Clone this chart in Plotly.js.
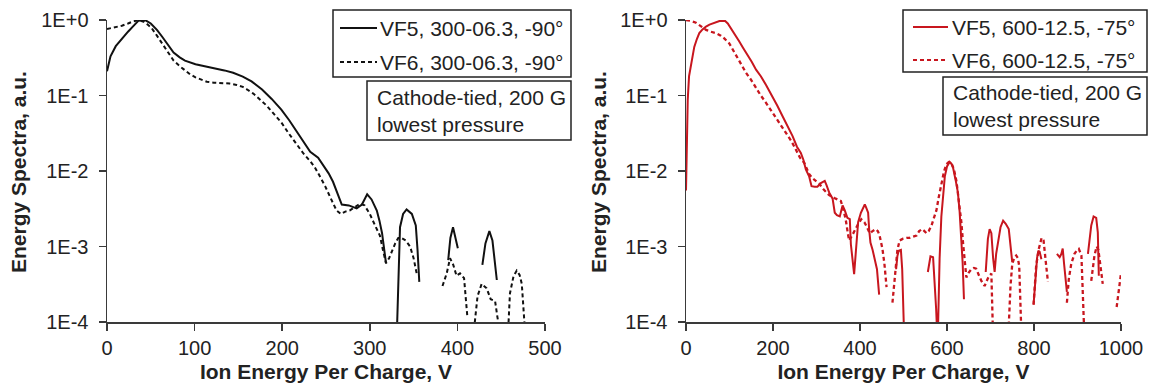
<!DOCTYPE html>
<html>
<head>
<meta charset="utf-8">
<script src="https://cdn.plot.ly/plotly-3.0.1.min.js"></script>
<style>html,body{margin:0;padding:0;background:#fff;}#chart{width:1149px;height:383px;}</style>
</head>
<body>
<div id="chart"></div>
<script>
// ---- Data ----
const leftVF5_x = [0,4,10,17,24,30,36,40,44,50,57,63,70,76,83,89,101,112,123,134,144,155,165,177,188,199,208,216,224,232,241,247,253,258,264,268,276,285,291,297,302,308,311,314,318.5,324,330.5,334.5,338,342,348,352.5,354.5,356.5,370,389.5,392,395,398,400.5,415,428.5,432,436.5,440,445];
const leftVF5_y = [0.21,0.33,0.45,0.57,0.70,0.83,0.98,0.995,0.99,0.90,0.74,0.60,0.46,0.37,0.32,0.29,0.26,0.245,0.23,0.215,0.20,0.178,0.154,0.12,0.09,0.065,0.047,0.034,0.025,0.018,0.015,0.012,0.0093,0.0072,0.0048,0.0036,0.0035,0.0032,0.0036,0.0049,0.0042,0.003,0.0022,0.0015,0.0006,null,0.00005,0.0018,0.0027,0.0031,0.0027,0.0019,0.0009,0.00034,null,0.00066,0.0013,0.0018,0.0013,0.00095,null,0.00057,0.0011,0.0016,0.0012,0.00036];

const leftVF6_x = [0,8,17,24,30,36,42,47,51,57,63,70,76,83,89,95,101,108,114,122,131,140,148,155,160,167,173,182,190,199,207,216,224,232,237,243,249,256,262,267,272,277,283,289,294,300,306,311.5,315,318.5,322,325,329,332.5,336,341,346,350,353.5,368,383,387.8,391.6,395.3,399,403,407.6,409.5,411.3,416,419,423,427.7,433.4,438,443,445.5,448,453,458,460,464,467.7,471,473.5,476,477];
const leftVF6_y = [0.76,0.80,0.84,0.90,0.96,0.995,0.95,0.86,0.78,0.62,0.49,0.37,0.29,0.245,0.215,0.19,0.174,0.16,0.152,0.148,0.146,0.144,0.138,0.13,0.12,0.106,0.092,0.074,0.058,0.044,0.032,0.023,0.0172,0.0135,0.0113,0.0085,0.0063,0.0042,0.0030,0.0027,0.0029,0.0030,0.0033,0.0037,0.0035,0.0027,0.0019,0.0014,0.0009,0.0006,0.0007,0.00085,0.0011,0.0013,0.0013,0.0012,0.001,0.0007,0.00044,null,0.0003,0.00044,0.0007,0.00057,0.00041,0.00044,0.00038,0.0002,0.00012,null,0.00008,0.00022,0.00032,0.00028,0.0002,0.00019,0.00012,0.00008,null,0.00008,0.00024,0.0004,0.00048,0.00042,0.00032,0.00012,0.00008];

const rightVF5_x = [0,2,4,7,11.5,15,19,25,30.6,38,46,54,61,69,77,84,90,96,102,107.6,115,122.5,131,141.7,151,161,172,184,192,199,210,222,234,245,255,264,270,275.5,283,288.6,296,302,310,319,323,329,337,342,347,353.6,357,360,365,371,376.6,379,386.5,391,395.7,402,407,411,414,418.7,421,424,429,434,439,444,460,483,486,489,494,497,500,502,530,556,559,562,568,571,575,578.5,583,587,591,595,600,606,610,614,620,625,629,633,636,639,660,689,692,694,698,702,706,709.5,713,717,723,729,735,742,746,750,775,799,803,807,810,813,817,835,852.7,859,863,866,869,873,875.6,900,924,928,931.6,937,943,946.7,949];
const rightVF5_y = [0.0055,0.03,0.088,0.18,0.26,0.36,0.44,0.56,0.67,0.75,0.82,0.87,0.9,0.94,0.97,0.98,0.97,0.9,0.8,0.7,0.6,0.52,0.43,0.345,0.28,0.22,0.18,0.138,0.115,0.098,0.073,0.053,0.039,0.029,0.021,0.0174,0.014,0.0105,0.0085,0.0063,0.0062,0.0062,0.0069,0.0074,0.0065,0.0052,0.0043,0.0028,0.0026,0.0025,0.003,0.0035,0.003,0.0024,0.0023,0.00107,0.00043,0.0011,0.0021,0.0028,0.0033,0.0036,0.0033,0.0028,0.0017,0.00113,0.0009,0.00068,0.0005,0.00023,null,0.0005,0.00075,0.00088,0.0009,0.0005,0.00015,0.00005,null,0.00046,0.0006,0.00074,0.00072,0.0004,0.00015,0.00005,0.0007,0.0025,0.005,0.0085,0.0115,0.0132,0.0125,0.011,0.0075,0.0052,0.0029,0.0014,0.0006,0.0002,null,0.00046,0.0009,0.00126,0.0017,0.0015,0.0007,0.00046,0.0008,0.00113,0.0018,0.0022,0.002,0.0017,0.001,0.00062,null,0.00017,0.0004,0.0007,0.00088,0.00085,0.00068,null,0.0008,0.00072,0.0008,0.00094,0.0006,0.0003,0.00025,null,0.0008,0.0013,0.0019,0.0025,0.0024,0.00154,0.00041];

const rightVF6_x = [0,10,23,34,46,57,69,80,88,99.5,107,115,126,138,150,161,172,184,196,207,219,230,242,253,262,272,283,291,298.6,306,315,321.5,329,341,350,356,361,367,372,375,382,389,396,403,410,416,422.5,429,436,441,445,451.6,456,461,468,474.6,478,482,486,491,499,507,514,522,530,536,543,548,553,558,564.5,570,575.6,581,587,593,598.6,604,610,616,621.6,627,633,637,640.6,644.5,650,656,662,667,673,679,686.5,690,694,702,704,706,725,742,746,750,755,759,763,766,769,771,785,799,805,811,817.5,822,826,828,832,855,875.6,880,885.6,893,898,903,909,912,914,916,925,931.6,935,939,944,948,952,958,975,990,995,1000];
const rightVF6_y = [0.995,0.98,0.92,0.82,0.74,0.70,0.67,0.62,0.57,0.49,0.41,0.33,0.26,0.2,0.16,0.125,0.1,0.08,0.063,0.05,0.04,0.032,0.025,0.019,0.015,0.0128,0.0091,0.008,0.0074,0.0068,0.0058,0.0053,0.0048,0.0044,0.0042,0.0040,0.0032,0.0023,0.0015,0.0012,0.0014,0.0017,0.002,0.0023,0.0021,0.0018,0.0015,0.0016,0.0017,0.0016,0.0014,0.00093,0.0006,0.00029,null,0.00018,0.0003,0.0005,0.0009,0.0012,0.00127,0.0013,0.0013,0.00135,0.0014,0.0016,0.0017,0.0016,0.0015,0.0016,0.0019,0.0024,0.003,0.0045,0.007,0.0098,0.0123,0.0131,0.0128,0.0105,0.0074,0.0042,0.0021,0.0011,0.00062,0.00039,0.00045,0.0005,0.00052,0.00051,0.00042,0.00035,0.0003,0.00034,0.00038,0.00044,0.0002,0.00006,null,0.00009,0.0003,0.00059,0.00072,0.00076,0.0007,0.00055,0.0002,0.00007,null,0.00017,0.00056,0.00093,0.0013,0.0012,0.0008,0.00056,0.00034,null,0.00018,0.00037,0.00059,0.0008,0.00088,0.00093,0.00076,0.00034,0.00015,0.00006,null,0.00035,0.0005,0.00076,0.001,0.0009,0.0006,0.00032,null,0.000158,0.00025,0.00044];

const leftNames = ['VF5, 300-06.3, -90°', 'VF6, 300-06.3, -90°'];
const rightNames = ['VF5, 600-12.5, -75°', 'VF6, 600-12.5, -75°'];
const noteText = 'Cathode-tied, 200 G<br>lowest pressure';
const yTickVals = [1e-4, 1e-3, 1e-2, 1e-1, 1];
const yTickText = ['1E-4', '1E-3', '1E-2', '1E-1', '1E+0'];
const xTitle = 'Ion Energy Per Charge, V';
const yTitle = 'Energy Spectra, a.u.';

// ---- Styling ----
const W = 1149, H = 383;
const FONT = 'Liberation Sans, Arial, sans-serif';
const TXT = '#222222';
const BLACK = '#111111';
const RED = '#c8161e';
const AX = '#3a3a3a';
const DASH = '4px,3px';
const mt = 20, mb = 61;
const ph = H - mt - mb;
const px = v => v / W;
const py = v => (H - mb - v) / ph;

const traces = [
  {x: leftVF5_x, y: leftVF5_y, name: leftNames[0], xaxis: 'x', yaxis: 'y', mode: 'lines',
   line: {color: BLACK, width: 2}},
  {x: leftVF6_x, y: leftVF6_y, name: leftNames[1], xaxis: 'x', yaxis: 'y', mode: 'lines',
   line: {color: BLACK, width: 2, dash: DASH}},
  {x: rightVF5_x, y: rightVF5_y, name: rightNames[0], xaxis: 'x2', yaxis: 'y2', mode: 'lines',
   line: {color: RED, width: 2}},
  {x: rightVF6_x, y: rightVF6_y, name: rightNames[1], xaxis: 'x2', yaxis: 'y2', mode: 'lines',
   line: {color: RED, width: 2.3, dash: DASH}}
];

const xCommon = {
  showgrid: false, zeroline: false, showline: true, linecolor: AX, linewidth: 1.5,
  ticks: 'outside', ticklen: 7, tickwidth: 1.5, tickcolor: AX,
  tickfont: {family: FONT, size: 20, color: TXT},
  title: {text: xTitle, font: {family: FONT, size: 21, color: TXT, weight: 'bold'}}
};
const yCommon = {
  type: 'log', range: [-4, 0], domain: [0, 1],
  tickvals: yTickVals, ticktext: yTickText,
  showgrid: false, zeroline: false, showline: true, linecolor: AX, linewidth: 1.5,
  ticks: 'outside', ticklen: 7, tickwidth: 1.5, tickcolor: AX, ticklabelstandoff: 6,
  tickfont: {family: FONT, size: 20, color: TXT}
};

// legend / note boxes (pixel geometry of the reference)
function rect(x0, x1, y0, y1) {
  return {type: 'rect', xref: 'paper', yref: 'paper', x0: px(x0), x1: px(x1), y0: py(y1), y1: py(y0),
          line: {color: TXT, width: 1.5}, fillcolor: 'white', layer: 'above'};
}
function sample(x0, x1, y, color, dash) {
  return {type: 'line', xref: 'paper', yref: 'paper', x0: px(x0), x1: px(x1), y0: py(y), y1: py(y),
          line: {color: color, width: 2, dash: dash}, layer: 'above'};
}
function label(text, x, y, opts) {
  return Object.assign({xref: 'paper', yref: 'paper', x: px(x), y: py(y), xanchor: 'left', yanchor: 'middle',
          showarrow: false, align: 'left', text: text, font: {family: FONT, size: 21, color: TXT}}, opts || {});
}

const shapes = [
  rect(333, 571, 10, 77),
  sample(340, 377, 28, BLACK, 'solid'),
  sample(340, 377, 62, BLACK, DASH),
  rect(367, 571, 81, 140),
  rect(903, 1147, 10, 72),
  sample(913, 948, 27, RED, 'solid'),
  sample(913, 948, 60, RED, DASH),
  rect(943, 1147, 77, 135)
];

const annotations = [
  label(leftNames[0], 378, 28),
  label(leftNames[1], 378, 62),
  label(noteText, 375, 110.5),
  label(rightNames[0], 950, 27),
  label(rightNames[1], 950, 60),
  label(noteText, 951, 106.5),
  label(yTitle, 18, 172, {xanchor: 'center', textangle: -90, font: {family: FONT, size: 21, color: TXT, weight: 'bold'}}),
  label(yTitle, 598, 172, {xanchor: 'center', textangle: -90, font: {family: FONT, size: 21, color: TXT, weight: 'bold'}})
];

const layout = {
  width: W, height: H,
  margin: {l: 0, r: 0, t: mt, b: mb},
  paper_bgcolor: 'white', plot_bgcolor: 'white',
  showlegend: false,
  xaxis: Object.assign({}, xCommon, {domain: [px(107), px(545)], range: [0, 500], dtick: 100, anchor: 'y'}),
  yaxis: Object.assign({}, yCommon, {anchor: 'x'}),
  xaxis2: Object.assign({}, xCommon, {domain: [px(686), px(1121)], range: [0, 1000], dtick: 200, anchor: 'y2'}),
  yaxis2: Object.assign({}, yCommon, {anchor: 'x2'}),
  shapes: shapes,
  annotations: annotations
};

Plotly.newPlot('chart', traces, layout, {staticPlot: true, displayModeBar: false});
</script>
</body>
</html>
